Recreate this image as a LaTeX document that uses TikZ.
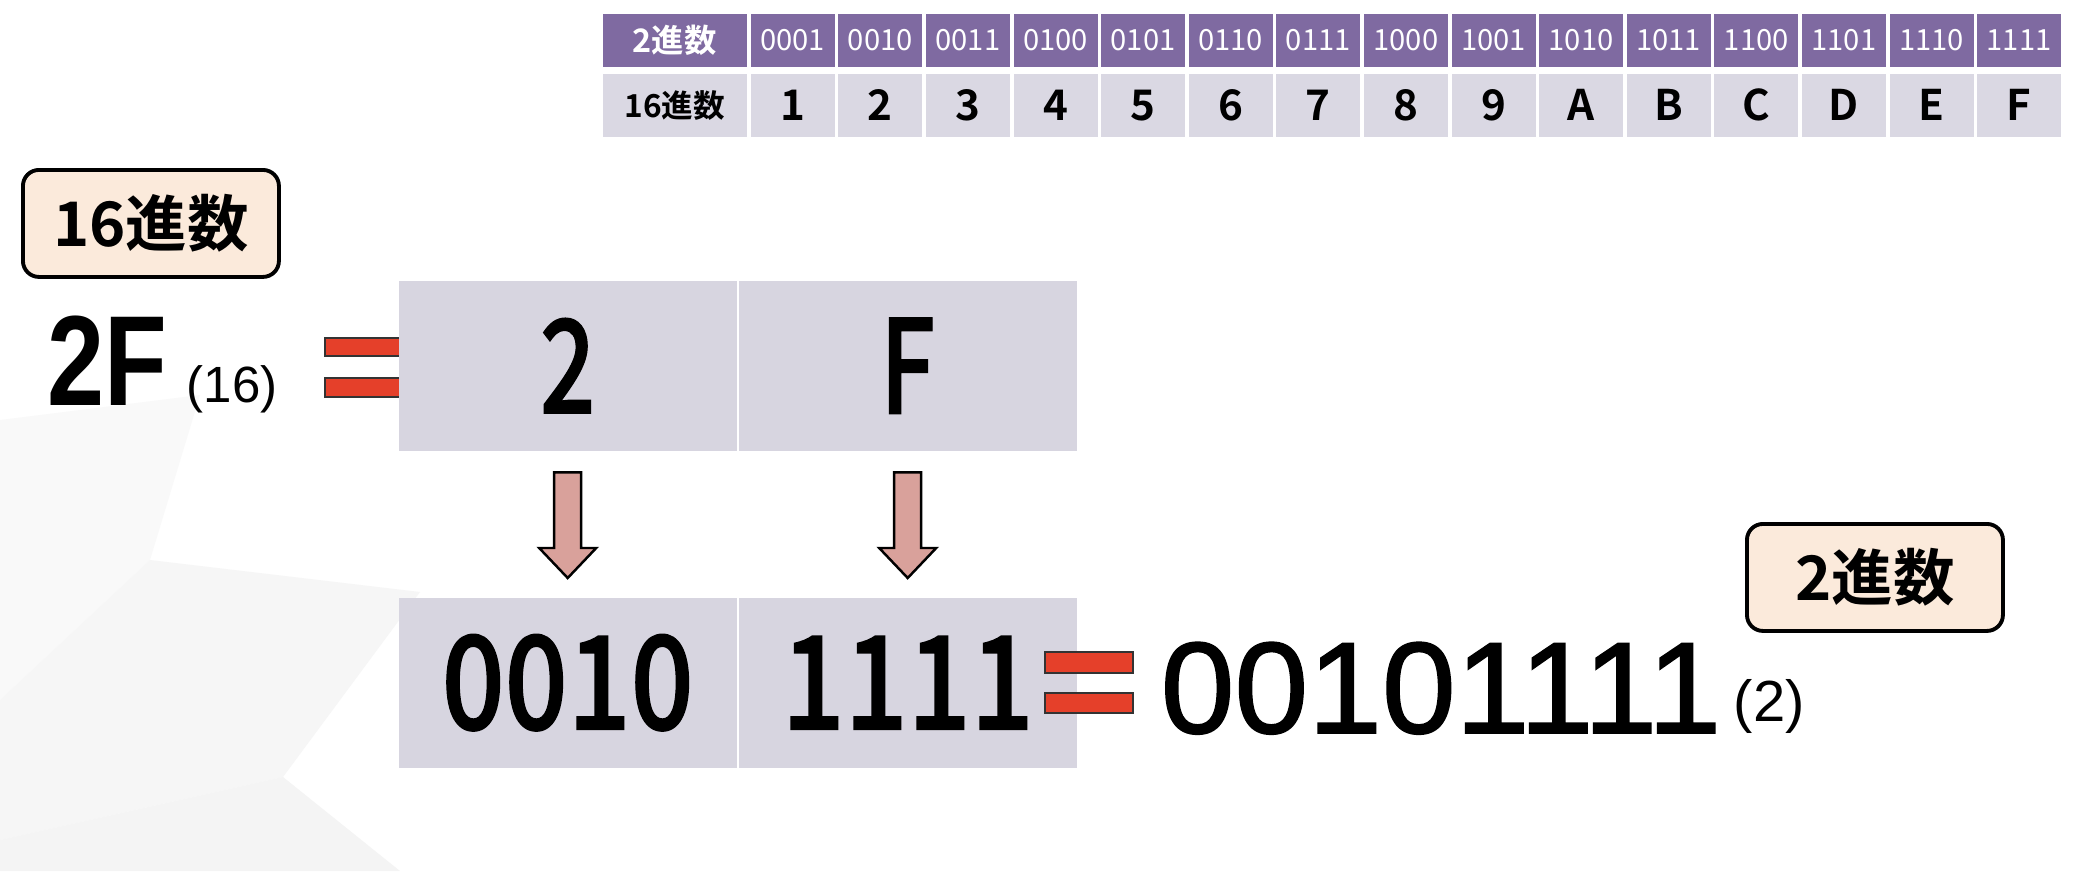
\documentclass[tikz,border=0pt]{standalone}
\usepackage{fontspec}
\usepackage{xcolor}
\usetikzlibrary{calc}
\newfontfamily\jpfont{Noto Sans CJK JP}[BoldFont={Noto Sans CJK JP Bold}]
\newfontfamily\jpmedium{Noto Sans CJK JP Medium}[FakeBold=1.2]
\newfontfamily\arialfont{Liberation Sans}
\newfontfamily\arialsemi{Liberation Sans}[FakeBold=1.3]
\definecolor{tblpurple}{HTML}{7F6AA1}
\definecolor{tbllav}{HTML}{DAD8E3}
\definecolor{boxgray}{HTML}{D7D5E0}
\definecolor{peach}{HTML}{FBEADB}
\definecolor{eqred}{HTML}{E5402A}
\definecolor{arrowpink}{HTML}{D9A19B}

\begin{document}
\begin{tikzpicture}[x=0.1mm, y=-0.1mm,
    bincell/.style={fill=tblpurple, text=white, anchor=north west, inner sep=0,
      minimum width=8.4mm, minimum height=5.3mm, font=\jpfont\fontsize{8.3}{10}\selectfont},
    hexcell/.style={fill=tbllav, text=black, anchor=north west, inner sep=0,
      minimum width=8.4mm, minimum height=6.3mm, font=\jpfont\bfseries\fontsize{12}{14}\selectfont},
    digitbox/.style={fill=boxgray, anchor=north west, inner sep=0,
      minimum width=33.8mm, minimum height=17mm, font=\jpmedium\fontsize{37}{40}\selectfont},
    tagbox/.style={draw=black, line width=1.1pt, fill=peach, rounded corners=1.6mm,
      anchor=north west, inner sep=0, minimum width=25.6mm, minimum height=10.7mm,
      font=\jpfont\bfseries\fontsize{17.5}{20}\selectfont},
    eqbar/.style={draw=black!80, line width=0.6pt, fill=eqred},
    blockarrow/.style={draw=black, line width=0.7pt, fill=arrowpink, line join=miter}]

        % background
        \fill [white] (0,0) rectangle (2077,871);
        \useasboundingbox (0,0) rectangle (2077,871);
        \fill [black!2.5] (0,420) -- (200,395) -- (150,560) -- (0,700) -- cycle;
        \fill [black!3.5] (150,560) -- (420,592) -- (283,777) -- (0,840) -- (0,700) -- cycle;
        \fill [black!4.5] (283,777) -- (400,871) -- (0,871) -- (0,840) -- cycle;

        % table
        \node [bincell, minimum width=14.4mm, font=\jpfont\bfseries\fontsize{9.2}{11}\selectfont] (bin0) at (602,13) {2進数};
        \node [hexcell, minimum width=14.4mm, font=\jpfont\bfseries\fontsize{9}{11}\selectfont] (hex0) at (602,73) {16進数};
        \foreach \b/\h [count=\i] in {0001/1,0010/2,0011/3,0100/4,0101/5,0110/6,0111/7,1000/8,1001/9,1010/A,1011/B,1100/C,1101/D,1110/E,1111/F} {
            \node [bincell] (bin\i) at ({750+(\i-1)*87.6},13) {\b};
            \node [hexcell] (hex\i) at ({750+(\i-1)*87.6},73) {\h};
        }

        % labels
        \node [tagbox] (hextag) at (21,168) {16進数};
        \node [tagbox] (bintag) at (1745,522) {2進数};

        % 2F(16)
        \node [anchor=base west, inner sep=0, font=\arialfont\bfseries\fontsize{36.5}{40}\selectfont] (hexnum) at (47,405) {\scalebox{0.8}[1]{2F}};
        \node [anchor=base west, inner sep=0, font=\arialfont\fontsize{14.5}{17}\selectfont] (hexbase) at (186,402) {(16)};
        \draw [eqbar] (325,338) rectangle (410,356);
        \draw [eqbar] (325,378) rectangle (410,397);

        % hex digits
        \node [digitbox] (top1) at (398,280) {\scalebox{0.75}[1]{2}};
        \node [digitbox] (top2) at (738,280) {\scalebox{0.75}[1]{F}};

        % binary groups
        \node [digitbox] (bot1) at (398,597) {\scalebox{0.85}[1]{0010}};
        \node [digitbox] (bot2) at (738,597) {\scalebox{0.85}[1]{1111}};

        % arrows
        \foreach \c in {1,2} {
            \path (top\c.south) ++(0,21) coordinate (s\c);
            \path (bot\c.north) ++(0,-19) coordinate (e\c);
            \draw [blockarrow] ($(s\c)+(-13.5,0)$) -- ($(s\c)+(13.5,0)$) -- ($(e\c)+(13.5,-30)$)
                -- ($(e\c)+(28.5,-30)$) -- (e\c) -- ($(e\c)+(-28.5,-30)$) -- ($(e\c)+(-13.5,-30)$) -- cycle;
        }

        % =00101111(2)
        \draw [eqbar] (1045,652) rectangle (1133,673);
        \draw [eqbar] (1045,693) rectangle (1133,713);
        \node [anchor=base west, inner sep=0, font=\arialsemi\fontsize{37}{40}\selectfont] (binnum) at (1160,733) {\scalebox{1.02}[1]{00101111}};
        \node [anchor=base west, inner sep=0, font=\arialfont\fontsize{16.5}{19}\selectfont] (binbase) at (1733,721) {(2)};
    \end{tikzpicture}
\end{document}
